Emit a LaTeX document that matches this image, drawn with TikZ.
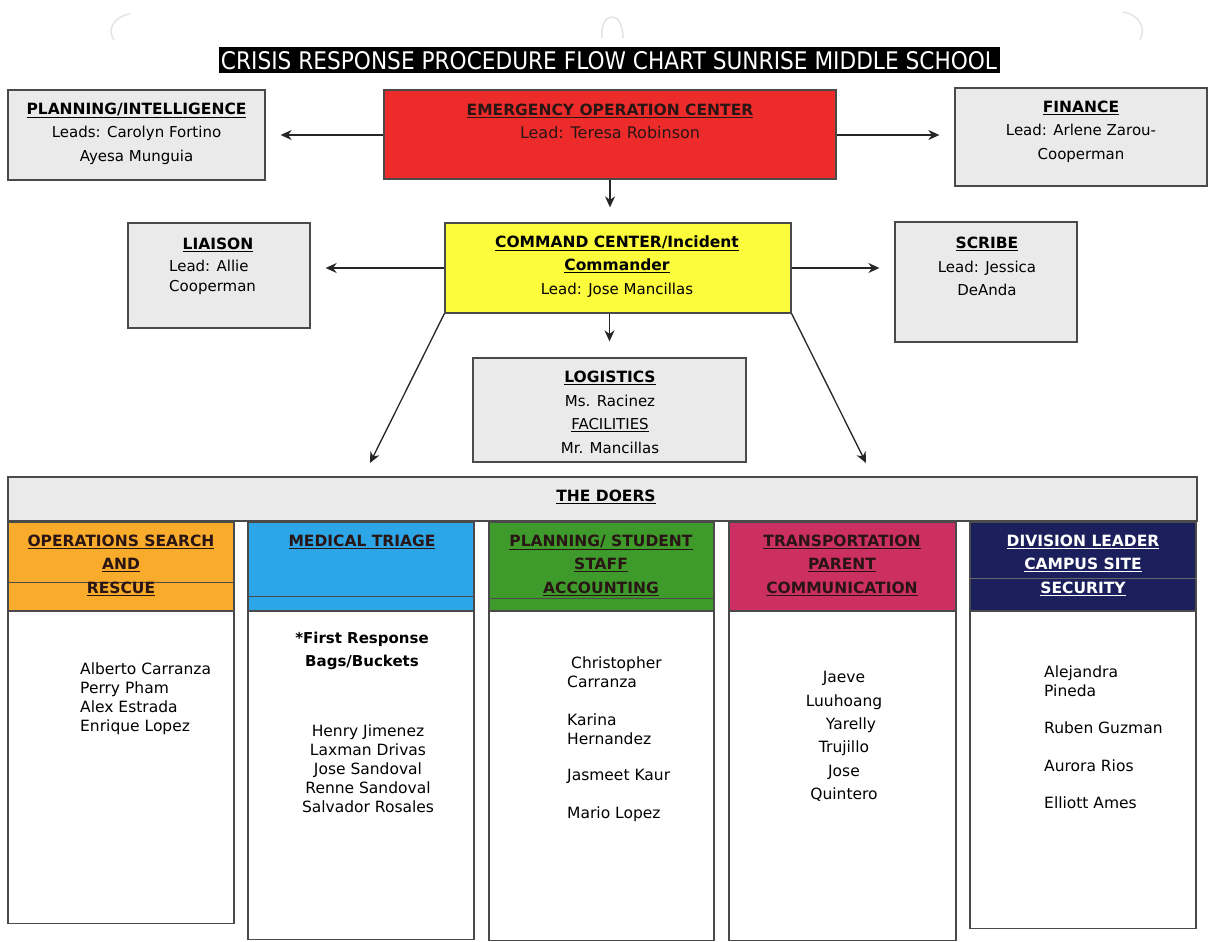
\documentclass[tikz,border=0pt]{standalone}
\usepackage{fontspec}
\setmainfont{DejaVu Sans}
\usetikzlibrary{arrows.meta}
\definecolor{panel}{HTML}{EAEAEA}
\definecolor{eocred}{HTML}{EE2B2B}
\definecolor{cmdyellow}{HTML}{FCFC3C}
\definecolor{colorange}{HTML}{F9AB2C}
\definecolor{colblue}{HTML}{2CA6E6}
\definecolor{colgreen}{HTML}{3E9A2B}
\definecolor{colmagenta}{HTML}{CC2F62}
\definecolor{colnavy}{HTML}{1B205C}
\definecolor{edge}{HTML}{4A4A4A}
\definecolor{darktext}{HTML}{2A1515}
\newcommand{\ttl}[1]{{\fontsize{15.5}{23.5}\bfseries\underline{#1}}}
\begin{document}
\begin{tikzpicture}[x=1pt,y=-1pt,
  box/.style={draw=edge, line width=1.3pt, inner sep=0pt, fill=panel},
  hdr/.style={draw=edge, line width=1.1pt, inner sep=0pt},
  body/.style={draw=edge, line width=1.3pt, inner sep=0pt, fill=white},
  arr/.style={draw=black!85, line width=1.3pt, -{Stealth[length=11pt,width=10pt]}},
  txt/.style={align=center, inner sep=0pt, font=\fontsize{15}{23.5}\selectfont},
  ltxt/.style={align=left, inner sep=0pt, font=\fontsize{15.5}{19}\selectfont},
  htxt/.style={align=center, inner sep=0pt, text=darktext, font=\fontsize{15.5}{23.5}\bfseries},
  punch/.style={draw=black!10, line width=1.6pt}
]
\useasboundingbox (0,0) rectangle (1210,942);
\fill[white] (0,0) rectangle (1210,942);

% punch-hole marks
\draw[punch] (130,14) .. controls (113,17) and (107,30) .. (114,40);
\draw[punch] (602,38) .. controls (599,12) and (623,8) .. (623,38);
\draw[punch] (1123,12) .. controls (1140,15) and (1146,28) .. (1140,40);

% title
\node[fill=black, inner sep=0pt, minimum width=781pt, minimum height=26pt] (title) at (609.5,60) {};
\node[text=white, inner sep=0pt] (titletext) at (609,60.5) {\resizebox{776pt}{18pt}{CRISIS RESPONSE PROCEDURE FLOW CHART SUNRISE MIDDLE SCHOOL}};

% top row
\node[box, minimum width=257pt, minimum height=90pt] (plan) at (136.5,135) {};
\node[txt] (plantext) at (136.5,133.5) {\ttl{PLANNING/INTELLIGENCE}\\Leads: Carolyn Fortino\\Ayesa Munguia};

\node[box, fill=eocred, minimum width=452pt, minimum height=89pt] (eoc) at (610,134.5) {};
\node[txt, text=darktext] (eoctext) at (610,121.5) {\ttl{EMERGENCY OPERATION CENTER}\\{\fontsize{16}{23}\selectfont Lead: Teresa Robinson}};

\node[box, minimum width=252pt, minimum height=98pt] (fin) at (1081,137) {};
\node[txt] (fintext) at (1081,131.5) {\ttl{FINANCE}\\Lead: Arlene Zarou-\\Cooperman};

% second row
\node[box, minimum width=182pt, minimum height=105pt] (liaison) at (219,275.5) {};
\node[txt] (liaisontitle) at (218,245) {\ttl{LIAISON}};
\node[ltxt, anchor=west, font=\fontsize{15}{20}\selectfont] (liaisontext) at (169,277) {Lead: Allie\\Cooperman};

\node[box, fill=cmdyellow, minimum width=346pt, minimum height=90pt] (cmd) at (618,268) {};
\node[txt] (cmdtext) at (617,266.5) {\ttl{COMMAND CENTER/Incident}\\\ttl{Commander}\\Lead: Jose Mancillas};

\node[box, minimum width=182pt, minimum height=120pt] (scribe) at (986,282) {};
\node[txt] (scribetext) at (987,266.5) {\ttl{SCRIBE}\\Lead: Jessica\\DeAnda};

\node[box, minimum width=273pt, minimum height=104pt] (log) at (609.5,410) {};
\node[txt] (logtext) at (610,412.5) {\ttl{LOGISTICS}\\Ms. Racinez\\\underline{FACILITIES}\\Mr. Mancillas};

% doers bar
\node[box, minimum width=1189pt, minimum height=44pt] (doers) at (602.5,499) {};
\node[txt] (doerstext) at (606,497) {\ttl{THE DOERS}};

% column headers
\node[hdr, fill=colorange, minimum width=226pt, minimum height=89pt] (h1) at (121,566.5) {};
\node[hdr, fill=colblue, minimum width=226pt, minimum height=89pt] (h2) at (361,566.5) {};
\node[hdr, fill=colgreen, minimum width=225pt, minimum height=89pt] (h3) at (601.5,566.5) {};
\node[hdr, fill=colmagenta, minimum width=227pt, minimum height=89pt] (h4) at (842.5,566.5) {};
\node[hdr, fill=colnavy, minimum width=226pt, minimum height=89pt] (h5) at (1083,566.5) {};
\draw[edge, line width=0.9pt] (h1.west |- 0,582) -- (h1.east |- 0,582);
\draw[edge, line width=0.9pt] (h2.west |- 0,596) -- (h2.east |- 0,596);
\draw[edge, line width=0.9pt] (h3.west |- 0,598) -- (h3.east |- 0,598);
\draw[black!60, line width=0.8pt] (h5.west |- 0,578) -- (h5.east |- 0,578);

\node[htxt] (h1text) at (121,565) {\underline{OPERATIONS SEARCH}\\\underline{AND}\\\underline{RESCUE}};
\node[htxt] (h2text) at (362,542) {\underline{MEDICAL TRIAGE}};
\node[htxt] (h3text) at (601,565) {\underline{PLANNING/ STUDENT}\\\underline{STAFF}\\\underline{ACCOUNTING}};
\node[htxt] (h4text) at (842,565) {\underline{TRANSPORTATION}\\\underline{PARENT}\\\underline{COMMUNICATION}};
\node[htxt, text=white] (h5text) at (1083,565) {\underline{DIVISION LEADER}\\\underline{CAMPUS SITE}\\\underline{SECURITY}};

% column bodies
\node[body, anchor=north, minimum width=226pt, minimum height=312pt] (b1) at (121,611) {};
\node[body, anchor=north, minimum width=226pt, minimum height=328pt] (b2) at (361,611) {};
\node[body, anchor=north, minimum width=225pt, minimum height=329pt] (b3) at (601.5,611) {};
\node[body, anchor=north, minimum width=227pt, minimum height=329pt] (b4) at (842.5,611) {};
\node[body, anchor=north, minimum width=226pt, minimum height=317pt] (b5) at (1083,611) {};

\node[ltxt, anchor=west] (b1text) at (80,698.5) {Alberto Carranza\\Perry Pham\\Alex Estrada\\Enrique Lopez};

\node[txt, font=\fontsize{15}{23}\bfseries] (b2top) at (362,650.5) {*First Response\\Bags/Buckets};
\node[txt, font=\fontsize{15.5}{19}\selectfont] (b2text) at (368,769) {Henry Jimenez\\Laxman Drivas\\Jose Sandoval\\Renne Sandoval\\Salvador Rosales};

\node[ltxt, anchor=west] (b3a) at (567,672.5) {\hspace*{4pt}Christopher\\Carranza};
\node[ltxt, anchor=west] (b3b) at (567,729) {Karina\\Hernandez};
\node[ltxt, anchor=west] (b3c) at (567,776) {Jasmeet Kaur};
\node[ltxt, anchor=west] (b3d) at (567,814) {Mario Lopez};

\node[txt, font=\fontsize{15.5}{23.4}\selectfont] (b4text) at (844,736.5) {Jaeve\\Luuhoang\\\hspace*{14pt}Yarelly\\Trujillo\\Jose\\Quintero};

\node[ltxt, anchor=west] (b5a) at (1044,681) {Alejandra\\Pineda};
\node[ltxt, anchor=west] (b5b) at (1044,728) {Ruben Guzman};
\node[ltxt, anchor=west] (b5c) at (1044,766) {Aurora Rios};
\node[ltxt, anchor=west] (b5d) at (1044,803) {Elliott Ames};

% connectors
\coordinate (dl) at (370,463);
\coordinate (dr) at (866,463);
\draw[arr, shorten >=15pt] (eoc.west |- plan.east) -- (plan.east);
\draw[arr, shorten >=15pt] (eoc.east |- plan.east) -- (fin.west |- plan.east);
\draw[arr, shorten >=15pt] (eoc.south) -- (eoc.south |- cmd.north);
\draw[arr, shorten >=15pt] (cmd.west) -- (cmd.west -| liaison.east);
\draw[arr, shorten >=15pt] (cmd.east) -- (cmd.east -| scribe.west);
\draw[arr, shorten >=16pt] (log.north |- cmd.south) -- (log.north);
\draw[arr] (cmd.south west) -- (dl);
\draw[arr] (cmd.south east) -- (dr);
\end{tikzpicture}
\end{document}
